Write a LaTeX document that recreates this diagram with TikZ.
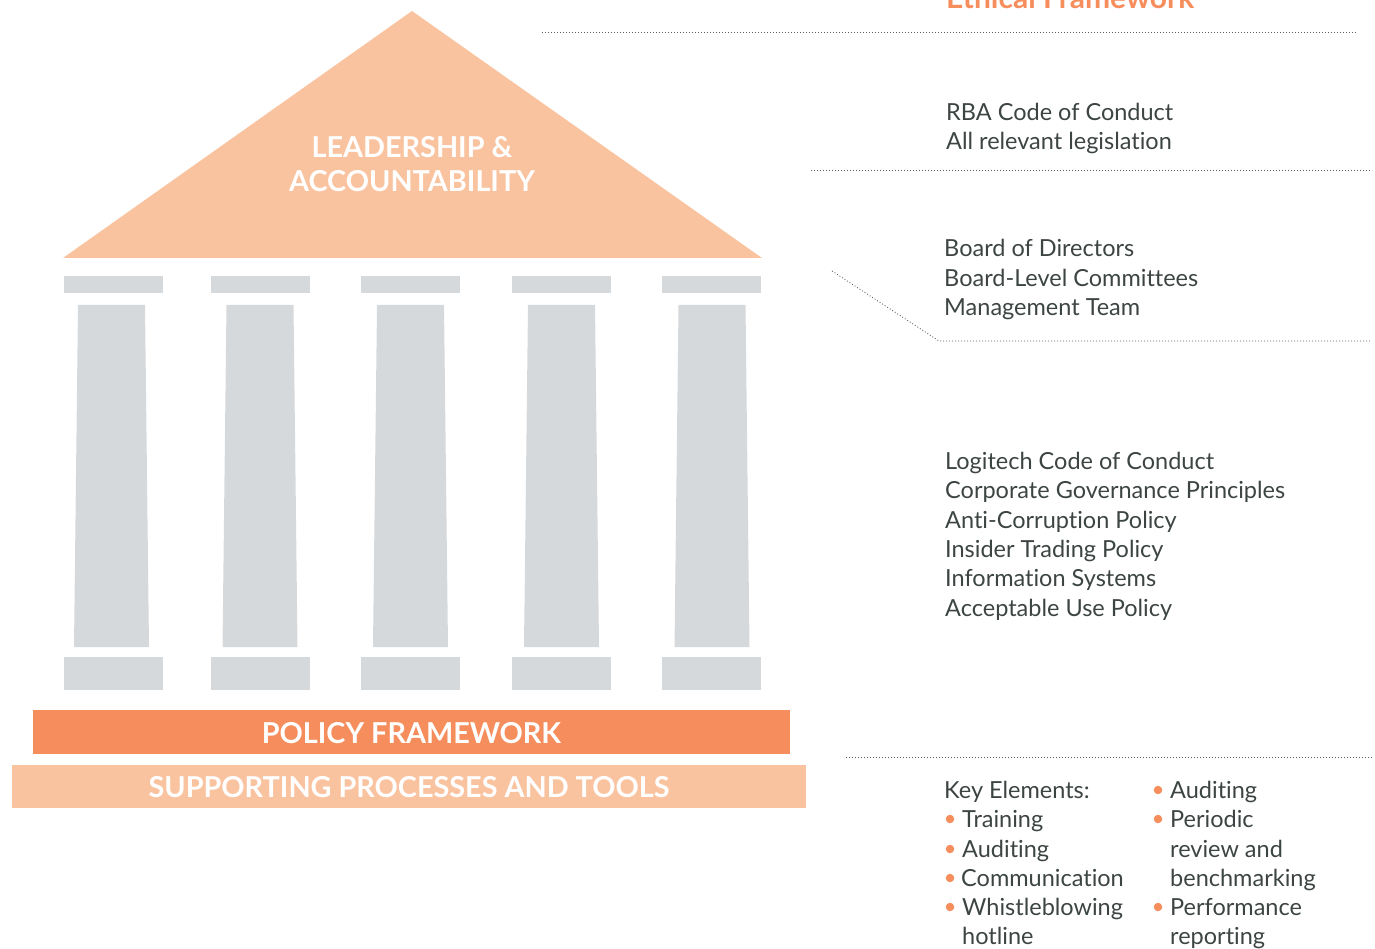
\documentclass[tikz,border=0pt]{standalone}
\usepackage{fontspec}
\setmainfont{Lato}[Ligatures={NoCommon}]
\definecolor{roof}{HTML}{FAC3A0}
\definecolor{policy}{HTML}{F68D5C}
\definecolor{pillar}{HTML}{D5D9DC}
\definecolor{txt}{HTML}{3C4543}
\definecolor{dotc}{HTML}{5A605E}
\tikzset{
  body/.style={anchor=base west, inner sep=0pt, text=txt, font=\fontsize{23.5}{28}\selectfont},
  head/.style={anchor=base, inner sep=0pt, text=white, font=\bfseries\fontsize{28.8}{32}\selectfont},
  dotline/.style={dotc, line width=0.9pt, dash pattern=on 0.9pt off 2.1pt},
  bullet/.style={circle, fill=policy, inner sep=0pt, minimum size=8.5pt},
}
\begin{document}
\begin{tikzpicture}[x=1pt,y=-1pt]
\useasboundingbox (0,0) rectangle (1375,949);
% roof
\fill[roof] (63,258) -- (412,11) -- (762,258) -- cycle;
\node[head] (lead1) at (412,158) {LEADERSHIP \&};
\node[head] (lead2) at (412,192) {ACCOUNTABILITY};
% pillars
\foreach \c/\s in {113.5/111.5, 260.5/260, 410.5/410.5, 561.5/561.5, 711.5/712}{
  \fill[pillar] (\c-49.5,276) rectangle (\c+49.5,293);
  \fill[pillar] (\s-33.5,305) -- (\s+33.5,305) -- (\s+37.5,647) -- (\s-37.5,647) -- cycle;
  \fill[pillar] (\c-49.5,657) rectangle (\c+49.5,690);
}
% bars
\fill[policy] (33,710) rectangle (790,754);
\node[head] (pf) at (411.5,743) {POLICY FRAMEWORK};
\fill[roof] (12,765) rectangle (806,808);
\node[head] (sp) at (409,797) {SUPPORTING PROCESSES AND TOOLS};
% title (cut by the top edge, as in the reference)
\node[anchor=base west, inner sep=0pt, text=policy, font=\bfseries\fontsize{30}{34}\selectfont] (title) at (946,9) {Ethical Framework};
% dotted lines
\coordinate (d1a) at (542,32); \coordinate (d1b) at (1357,32);
\coordinate (d2a) at (811,170); \coordinate (d2b) at (1372,170);
\coordinate (d3a) at (832,271); \coordinate (d3b) at (939,341); \coordinate (d3c) at (1372,341);
\coordinate (d4a) at (846,757); \coordinate (d4b) at (1372,757);
\draw[dotline] (d1a) -- (d1b);
\draw[dotline] (d2a) -- (d2b);
\draw[dotline] (d3a) -- (d3b) -- (d3c);
\draw[dotline] (d4a) -- (d4b);
% texts
\node[body] (r1) at (946,121) {RBA Code of Conduct};
\node[body] (r2) at (946,150) {All relevant legislation};
\node[body] (b1) at (944,257) {Board of Directors};
\node[body] (b2) at (944,287) {Board-Level Committees};
\node[body] (b3) at (944,316) {Management Team};
\node[body] (l1) at (945,469) {Logitech Code of Conduct};
\node[body] (l2) at (945,498) {Corporate Governance Principles};
\node[body] (l3) at (945,528) {Anti-Corruption Policy};
\node[body] (l4) at (945,557) {Insider Trading Policy};
\node[body] (l5) at (945,586) {Information Systems};
\node[body] (l6) at (945,616) {Acceptable Use Policy};
% key elements
\node[body] (k0) at (944,798) {Key Elements:};
\node[body] (k1) at (962,827) {Training};
\node[body] (k2) at (962,857) {Auditing};
\node[body] (k3) at (961,886) {Communication};
\node[body] (k4) at (962,915) {Whistleblowing};
\node[body] (k5) at (962,944) {hotline};
\foreach \y/\n in {827/kb1, 857/kb2, 886/kb3, 915/kb4}{
  \node[bullet] (\n) at (950,\y-8) {};
}
\node[body] (m1) at (1170,798) {Auditing};
\node[body] (m2) at (1170,827) {Periodic};
\node[body] (m3) at (1170,857) {review and};
\node[body] (m4) at (1170,886) {benchmarking};
\node[body] (m5) at (1170,915) {Performance};
\node[body] (m6) at (1170,944) {reporting};
\foreach \y/\n in {798/mb1, 827/mb2, 915/mb3}{
  \node[bullet] (\n) at (1158,\y-8) {};
}
\end{tikzpicture}
\end{document}
